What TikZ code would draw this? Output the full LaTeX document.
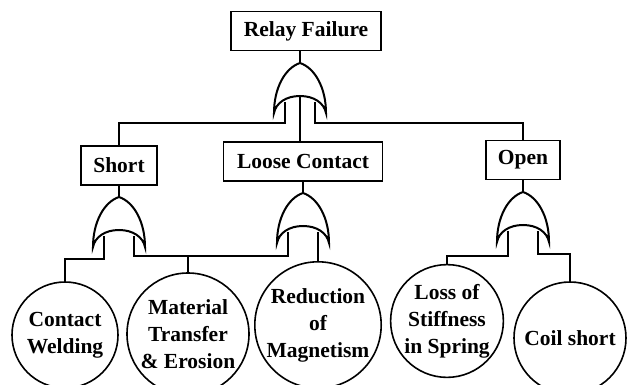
\documentclass[tikz,border=0pt]{standalone}
\usepackage{fontspec}
\setmainfont{Liberation Serif}
\usepackage{tikz}

\newcommand{\ftfont}{\fontsize{10.75}{13.5}\selectfont\bfseries}

\tikzset{
  event/.style={draw, line width=0.8pt, inner sep=0pt, minimum height=19.5pt, font=\ftfont},
  basic/.style={draw, circle, line width=0.8pt, inner sep=0pt, align=center, font=\ftfont},
  wire/.style={line width=0.8pt},
  orgate/.pic={
    \draw[line width=1pt,fill=white] (0,0) .. controls (-15,5) and (-26,25) .. (-26,50)
      .. controls (-24,40) and (-14,33) .. (0,33)
      .. controls (14,33) and (24,40) .. (26,50)
      .. controls (26,25) and (15,5) .. (0,0) -- cycle;
    \coordinate (-top) at (0,0);
    \coordinate (-mid) at (0,33);
    \coordinate (-l) at (-15,39);
    \coordinate (-r) at (15,39);
  }
}

\begin{document}
\begin{tikzpicture}[x=0.5pt,y=-0.5pt]
  \useasboundingbox (0,0) rectangle (631,385);
  % events
  \node[event, minimum width=75pt] (relay) at (306,31) {Relay Failure};
  \node[event, minimum width=38pt] (short) at (119,165.5) {Short};
  \node[event, minimum width=79.5pt] (loose) at (303,161.5) {Loose Contact};
  \node[event, minimum width=37pt] (open) at (523,160) {Open};
  % basic causes
  \node[basic, minimum size=53pt] (weld) at (65,335) {Contact\\Welding};
  \node[basic, minimum size=61pt] (mat) at (188,334) {Material\\Transfer\\\& Erosion};
  \node[basic, minimum size=62pt] (magn) at (318,325) {Reduction\\of\\Magnetism};
  \node[basic, minimum size=56pt] (spring) at (447,321) {Loss of\\Stiffness\\in Spring};
  \node[basic, minimum size=56pt] (coil) at (570,338) {Coil short};
  % gates
  \pic (g0) at (300,63) {orgate};
  \pic (g1) at (119,197) {orgate};
  \pic (g2) at (303,193) {orgate};
  \pic (g3) at (523,192) {orgate};
  % wiring levels
  \coordinate (lvl0) at (0,123);
  \coordinate (lvl1) at (0,259);
  \coordinate (lvl2) at (0,256);
  \coordinate (lvl3) at (0,254);
  % wires
  \draw[wire] (relay.south -| g0-top) -- (g0-top);
  \draw[wire] (g0-l) -- (g0-l |- lvl0) -| (short.north);
  \draw[wire] (g0-r) -- (g0-r |- lvl0) -| (open.north);
  \draw[wire] (g0-mid) -- (loose.north -| g0-mid);
  \draw[wire] (short.south) -- (g1-top);
  \draw[wire] (loose.south) -- (g2-top);
  \draw[wire] (open.south) -- (g3-top);
  \draw[wire] (g1-l) -- (g1-l |- lvl1) -| (weld.north);
  \draw[wire] (g1-r) -- (g1-r |- lvl2) -| (g2-l);
  \draw[wire] (mat.north |- lvl2) -- (mat.north);
  \draw[wire] (g2-r) -- (magn.north);
  \draw[wire] (g3-l) -- (g3-l |- lvl2) -| (spring.north);
  \draw[wire] (g3-r) -- (g3-r |- lvl3) -| (coil.north);
\end{tikzpicture}
\end{document}
